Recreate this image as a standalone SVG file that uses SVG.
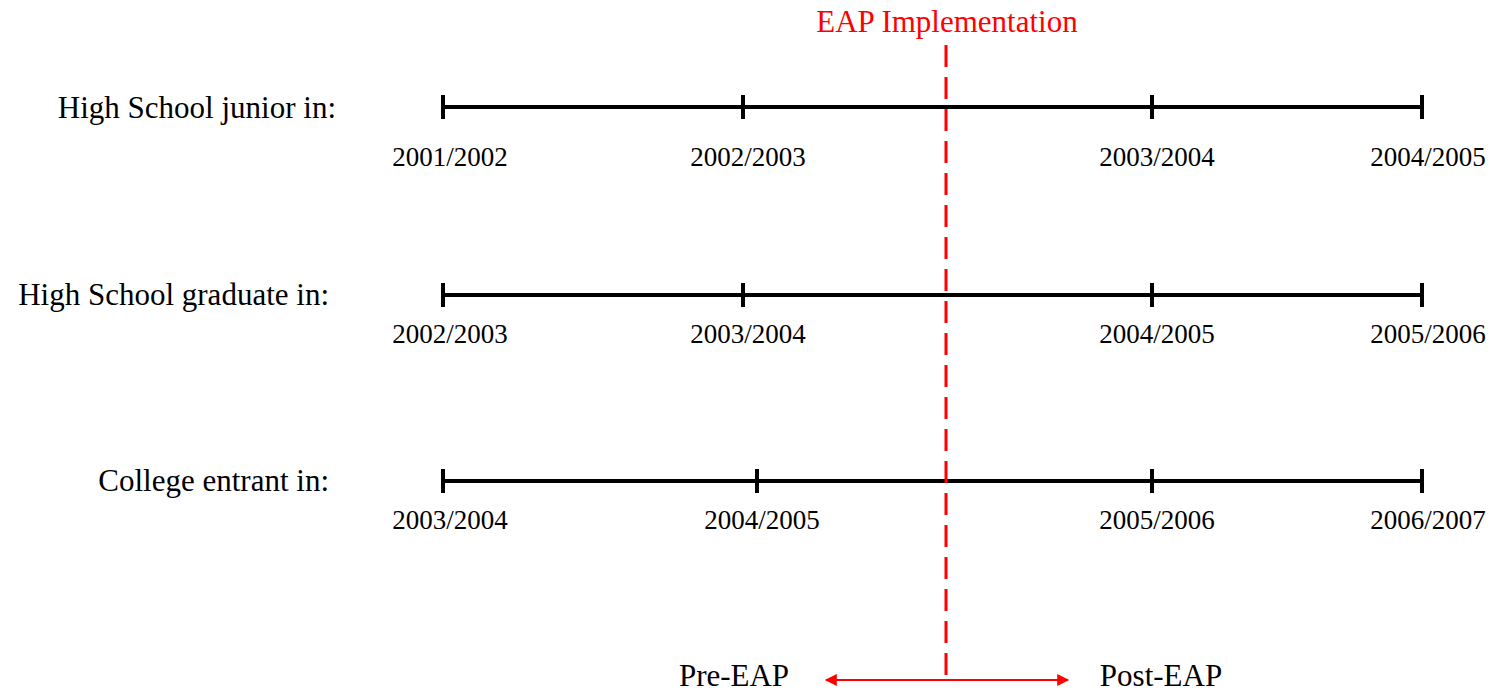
<svg xmlns="http://www.w3.org/2000/svg" width="1494" height="693" viewBox="0 0 1494 693">
<defs>
<style>
.lbl{font-family:"Liberation Serif","Times New Roman",serif;font-size:31px;fill:#000;text-anchor:end}
.yr{font-family:"Liberation Serif","Times New Roman",serif;font-size:27px;fill:#000;text-anchor:middle}
.red{font-family:"Liberation Serif","Times New Roman",serif;font-size:31px;fill:#ff0000;text-anchor:middle}
.blk{font-family:"Liberation Serif","Times New Roman",serif;font-size:31px;fill:#000;text-anchor:middle}
.tl{stroke:#000;stroke-width:4;fill:none}
</style>
<marker id="ah" viewBox="0 0 10 10" refX="9" refY="5" markerWidth="7" markerHeight="6" markerUnits="strokeWidth" orient="auto-start-reverse">
<path d="M0,0 L10,5 L0,10 z" fill="#ff0000"/>
</marker>
</defs>
<rect width="1494" height="693" fill="#ffffff"/>
<g id="row1">
<text class="lbl" x="336" y="118">High School junior in:</text>
<path class="tl" d="M443,107 H1422 M443,95 V119 M743,95 V119 M1152,95 V119 M1422,95 V119"/>
<text class="yr" x="450" y="166">2001/2002</text>
<text class="yr" x="748" y="166">2002/2003</text>
<text class="yr" x="1157" y="166">2003/2004</text>
<text class="yr" x="1428" y="166">2004/2005</text>
</g>
<g id="row2">
<text class="lbl" x="329" y="305">High School graduate in:</text>
<path class="tl" d="M443,295 H1422 M443,283 V307 M743,283 V307 M1152,283 V307 M1422,283 V307"/>
<text class="yr" x="450" y="343">2002/2003</text>
<text class="yr" x="748" y="343">2003/2004</text>
<text class="yr" x="1157" y="343">2004/2005</text>
<text class="yr" x="1428" y="343">2005/2006</text>
</g>
<g id="row3">
<text class="lbl" x="329" y="491">College entrant in:</text>
<path class="tl" d="M443,481 H1422 M443,469 V493 M757,469 V493 M1152,469 V493 M1422,469 V493"/>
<text class="yr" x="450" y="529">2003/2004</text>
<text class="yr" x="762" y="529">2004/2005</text>
<text class="yr" x="1157" y="529">2005/2006</text>
<text class="yr" x="1428" y="529">2006/2007</text>
</g>
<g id="eap">
<text class="red" x="947" y="32" font-size="30">EAP Implementation</text>
<text class="blk" x="734" y="686">Pre-EAP</text>
<text class="blk" x="1161" y="686">Post-EAP</text>
</g>
<g id="connectors">
<line x1="946" y1="45" x2="946" y2="680" stroke="#ff0000" stroke-width="3" stroke-dasharray="22,10"/>
<line x1="826" y1="680" x2="1068" y2="680" stroke="#ff0000" stroke-width="2" marker-start="url(#ah)" marker-end="url(#ah)"/>
</g>
</svg>
